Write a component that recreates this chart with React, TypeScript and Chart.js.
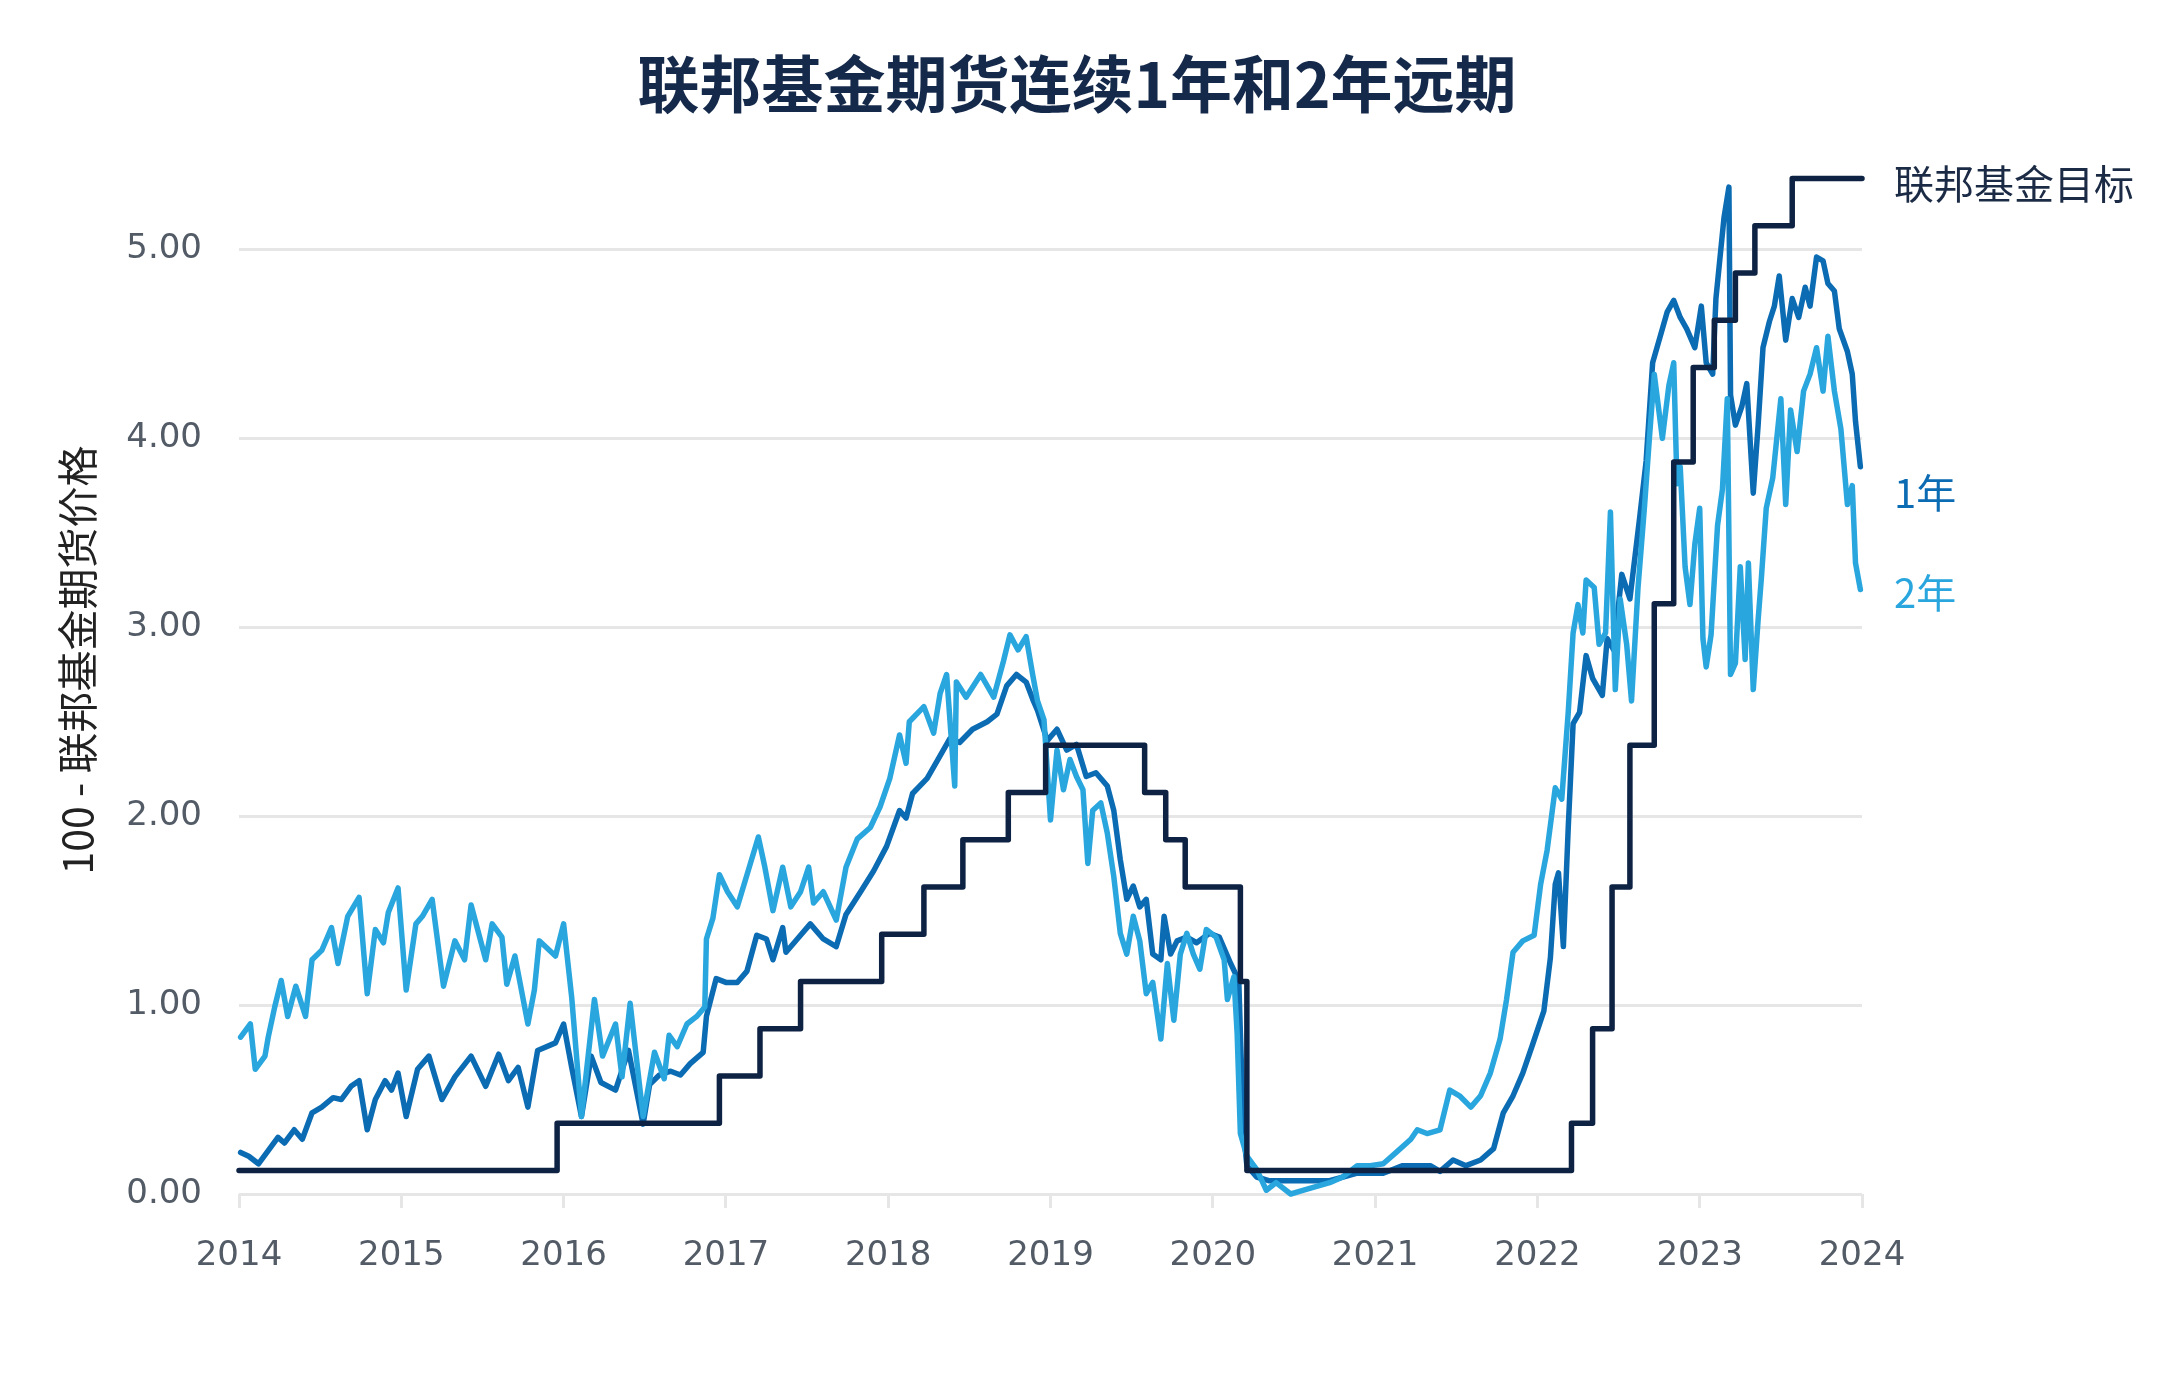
import React, { useEffect, useRef } from 'react';
import { Chart, ChartConfiguration, registerables } from 'chart.js';

Chart.register(...registerables);

const TITLE = '联邦基金期货连续1年和2年远期';
const Y_TITLE = '100 - 联邦基金期货价格';
const FED_LABEL = '联邦基金目标';
const ONE_YEAR_LABEL = '1年';
const TWO_YEAR_LABEL = '2年';

const xTickYears = [2014, 2015, 2016, 2017, 2018, 2019, 2020, 2021, 2022, 2023, 2024];
const yTickValues = [0, 1, 2, 3, 4, 5];

// Fed funds target (mid of range), step starts
const fedDates = [
    2014.0, 2015.96, 2016.96, 2017.21, 2017.46, 2017.96, 2018.22, 2018.46, 2018.74, 2018.97,
    2019.58, 2019.71, 2019.83, 2020.17, 2020.21, 2022.21, 2022.34, 2022.46, 2022.57, 2022.72,
    2022.84, 2022.96, 2023.09, 2023.22, 2023.34, 2023.57, 2024.0,
];
const fedRates = [
    0.125, 0.375, 0.625, 0.875, 1.125, 1.375, 1.625, 1.875, 2.125, 2.375,
    2.125, 1.875, 1.625, 1.125, 0.125, 0.375, 0.875, 1.625, 2.375, 3.125,
    3.875, 4.375, 4.625, 4.875, 5.125, 5.375, 5.375,
];

// 1-year forward
const oneYearDates = [
    2014.01, 2014.06, 2014.12, 2014.18, 2014.24, 2014.28, 2014.34, 2014.39, 2014.45, 2014.51,
    2014.58, 2014.63, 2014.69, 2014.74, 2014.79, 2014.84, 2014.90, 2014.94, 2014.98, 2015.03,
    2015.10, 2015.17, 2015.25, 2015.33, 2015.43, 2015.52, 2015.60, 2015.66, 2015.72, 2015.78,
    2015.84, 2015.95, 2016.00, 2016.05, 2016.11, 2016.17, 2016.23, 2016.32, 2016.40, 2016.49,
    2016.53, 2016.59, 2016.66, 2016.72, 2016.78, 2016.86, 2016.88, 2016.94, 2017.00, 2017.07,
    2017.13, 2017.19, 2017.25, 2017.29, 2017.35, 2017.37, 2017.44, 2017.52, 2017.60, 2017.68,
    2017.74, 2017.83, 2017.91, 2017.99, 2018.07, 2018.11, 2018.15, 2018.24, 2018.30, 2018.38,
    2018.44, 2018.52, 2018.61, 2018.67, 2018.73, 2018.79, 2018.85, 2018.89, 2018.92, 2018.98,
    2019.04, 2019.10, 2019.16, 2019.22, 2019.28, 2019.35, 2019.39, 2019.43, 2019.47, 2019.51,
    2019.55, 2019.59, 2019.63, 2019.68, 2019.70, 2019.74, 2019.78, 2019.84, 2019.90, 2019.98,
    2020.04, 2020.11, 2020.16, 2020.17, 2020.19, 2020.21, 2020.27, 2020.35, 2020.52, 2020.72,
    2020.89, 2021.05, 2021.17, 2021.34, 2021.40, 2021.48, 2021.56, 2021.65, 2021.73, 2021.79,
    2021.85, 2021.91, 2021.97, 2022.04, 2022.08, 2022.11, 2022.13, 2022.16, 2022.19, 2022.22,
    2022.26, 2022.30, 2022.34, 2022.40, 2022.43, 2022.47, 2022.52, 2022.57, 2022.63, 2022.67,
    2022.71, 2022.76, 2022.80, 2022.84, 2022.88, 2022.92, 2022.97, 2023.01, 2023.04, 2023.08,
    2023.10, 2023.15, 2023.18, 2023.19, 2023.22, 2023.26, 2023.29, 2023.33, 2023.36, 2023.39,
    2023.43, 2023.46, 2023.49, 2023.53, 2023.57, 2023.61, 2023.65, 2023.68, 2023.72, 2023.76,
    2023.79, 2023.83, 2023.86, 2023.91, 2023.94, 2023.96, 2023.99,
];
const oneYearValues = [
    0.22, 0.20, 0.16, 0.23, 0.30, 0.27, 0.34, 0.29, 0.43, 0.46,
    0.51, 0.50, 0.57, 0.60, 0.34, 0.50, 0.60, 0.55, 0.64, 0.41,
    0.66, 0.73, 0.50, 0.62, 0.73, 0.57, 0.74, 0.60, 0.67, 0.46,
    0.76, 0.80, 0.90, 0.67, 0.41, 0.73, 0.59, 0.55, 0.76, 0.37,
    0.58, 0.63, 0.65, 0.63, 0.69, 0.75, 0.94, 1.14, 1.12, 1.12,
    1.18, 1.37, 1.35, 1.24, 1.41, 1.28, 1.35, 1.43, 1.35, 1.31,
    1.48, 1.60, 1.71, 1.84, 2.03, 1.99, 2.12, 2.20, 2.29, 2.41,
    2.39, 2.46, 2.50, 2.54, 2.69, 2.75, 2.71, 2.62, 2.56, 2.40,
    2.46, 2.35, 2.38, 2.21, 2.23, 2.16, 2.03, 1.77, 1.56, 1.63,
    1.52, 1.56, 1.27, 1.24, 1.47, 1.27, 1.34, 1.36, 1.33, 1.38,
    1.36, 1.22, 1.13, 0.85, 0.32, 0.15, 0.09, 0.07, 0.07, 0.07,
    0.11, 0.11, 0.15, 0.15, 0.12, 0.18, 0.15, 0.18, 0.24, 0.43,
    0.52, 0.64, 0.79, 0.97, 1.25, 1.64, 1.70, 1.31, 1.94, 2.49,
    2.55, 2.85, 2.73, 2.64, 2.94, 2.88, 3.28, 3.15, 3.58, 3.88,
    4.40, 4.55, 4.67, 4.73, 4.64, 4.58, 4.48, 4.70, 4.40, 4.34,
    4.74, 5.17, 5.33, 4.23, 4.07, 4.17, 4.29, 3.71, 4.07, 4.48,
    4.62, 4.70, 4.86, 4.52, 4.74, 4.64, 4.80, 4.70, 4.96, 4.94,
    4.82, 4.78, 4.58, 4.46, 4.34, 4.09, 3.85,
];

// 2-year forward
const twoYearDates = [
    2014.01, 2014.07, 2014.10, 2014.16, 2014.18, 2014.22, 2014.26, 2014.30, 2014.35, 2014.41,
    2014.45, 2014.51, 2014.57, 2014.61, 2014.67, 2014.74, 2014.79, 2014.84, 2014.89, 2014.92,
    2014.98, 2015.03, 2015.09, 2015.13, 2015.19, 2015.26, 2015.33, 2015.39, 2015.43, 2015.52,
    2015.56, 2015.62, 2015.65, 2015.70, 2015.78, 2015.82, 2015.85, 2015.95, 2016.00, 2016.05,
    2016.11, 2016.19, 2016.24, 2016.32, 2016.36, 2016.41, 2016.49, 2016.56, 2016.62, 2016.65,
    2016.70, 2016.76, 2016.82, 2016.87, 2016.88, 2016.92, 2016.96, 2017.01, 2017.07, 2017.13,
    2017.20, 2017.24, 2017.29, 2017.35, 2017.40, 2017.46, 2017.51, 2017.54, 2017.60, 2017.68,
    2017.74, 2017.81, 2017.89, 2017.95, 2018.01, 2018.07, 2018.11, 2018.13, 2018.22, 2018.28,
    2018.32, 2018.36, 2018.41, 2018.42, 2018.48, 2018.57, 2018.65, 2018.71, 2018.75, 2018.80,
    2018.85, 2018.89, 2018.92, 2018.96, 2019.00, 2019.04, 2019.08, 2019.12, 2019.16, 2019.20,
    2019.23, 2019.26, 2019.31, 2019.35, 2019.39, 2019.43, 2019.47, 2019.51, 2019.55, 2019.59,
    2019.63, 2019.68, 2019.72, 2019.76, 2019.80, 2019.84, 2019.88, 2019.92, 2019.96, 2020.02,
    2020.07, 2020.09, 2020.13, 2020.15, 2020.17, 2020.21, 2020.27, 2020.33, 2020.39, 2020.48,
    2020.56, 2020.64, 2020.72, 2020.80, 2020.89, 2020.97, 2021.05, 2021.13, 2021.22, 2021.26,
    2021.32, 2021.40, 2021.46, 2021.52, 2021.59, 2021.65, 2021.71, 2021.77, 2021.81, 2021.85,
    2021.91, 2021.98, 2022.02, 2022.06, 2022.11, 2022.15, 2022.19, 2022.22, 2022.25, 2022.28,
    2022.30, 2022.35, 2022.38, 2022.42, 2022.45, 2022.48, 2022.51, 2022.55, 2022.58, 2022.62,
    2022.66, 2022.69, 2022.72, 2022.77, 2022.81, 2022.84, 2022.86, 2022.88, 2022.91, 2022.94,
    2022.97, 2023.00, 2023.02, 2023.04, 2023.07, 2023.11, 2023.14, 2023.17, 2023.19, 2023.22,
    2023.25, 2023.28, 2023.30, 2023.33, 2023.36, 2023.38, 2023.41, 2023.45, 2023.50, 2023.53,
    2023.56, 2023.60, 2023.64, 2023.68, 2023.72, 2023.76, 2023.79, 2023.83, 2023.87, 2023.91,
    2023.94, 2023.96, 2023.99,
];
const twoYearValues = [
    0.83, 0.90, 0.66, 0.73, 0.83, 0.99, 1.13, 0.94, 1.10, 0.94,
    1.24, 1.29, 1.41, 1.22, 1.47, 1.57, 1.06, 1.40, 1.33, 1.49,
    1.62, 1.08, 1.43, 1.47, 1.56, 1.10, 1.34, 1.24, 1.53, 1.24,
    1.43, 1.36, 1.11, 1.26, 0.90, 1.08, 1.34, 1.26, 1.43, 1.04,
    0.41, 1.03, 0.73, 0.90, 0.62, 1.01, 0.41, 0.75, 0.61, 0.84,
    0.78, 0.90, 0.94, 0.99, 1.35, 1.46, 1.69, 1.60, 1.52, 1.69,
    1.89, 1.73, 1.50, 1.73, 1.52, 1.60, 1.73, 1.54, 1.60, 1.45,
    1.73, 1.88, 1.94, 2.05, 2.20, 2.43, 2.28, 2.50, 2.58, 2.44,
    2.65, 2.75, 2.16, 2.71, 2.63, 2.75, 2.63, 2.82, 2.96, 2.88,
    2.95, 2.75, 2.61, 2.51, 1.98, 2.35, 2.14, 2.30, 2.21, 2.14,
    1.75, 2.03, 2.07, 1.91, 1.68, 1.38, 1.27, 1.47, 1.34, 1.06,
    1.12, 0.82, 1.22, 0.92, 1.27, 1.38, 1.27, 1.19, 1.40, 1.36,
    1.24, 1.03, 1.15, 0.85, 0.32, 0.20, 0.13, 0.02, 0.06, 0.00,
    0.02, 0.04, 0.06, 0.09, 0.15, 0.15, 0.16, 0.22, 0.29, 0.34,
    0.32, 0.34, 0.55, 0.52, 0.46, 0.52, 0.64, 0.82, 1.03, 1.28,
    1.34, 1.37, 1.64, 1.82, 2.15, 2.09, 2.55, 2.97, 3.12, 2.97,
    3.25, 3.21, 2.91, 2.97, 3.61, 2.67, 3.15, 2.91, 2.61, 3.21,
    3.64, 4.00, 4.34, 4.00, 4.28, 4.40, 3.76, 3.85, 3.32, 3.12,
    3.44, 3.63, 2.94, 2.79, 2.96, 3.54, 3.73, 4.21, 2.75, 2.81,
    3.32, 2.83, 3.34, 2.67, 3.04, 3.26, 3.63, 3.79, 4.21, 3.65,
    4.15, 3.93, 4.25, 4.34, 4.48, 4.25, 4.54, 4.25, 4.05, 3.65,
    3.75, 3.34, 3.20,
];

const FED_COLOR = '#0e2243';
const ONE_YEAR_COLOR = '#0b6bb3';
const TWO_YEAR_COLOR = '#29a6de';
const TICK_COLOR = '#525b66';
const GRID_COLOR = '#e6e6e6';

const toPoints = (xs: number[], ys: number[]) => xs.map((x, i) => ({ x, y: ys[i] }));

// texts around the plot: title, axis title and the series labels on the right
const textPlugin = {
    id: 'chartTexts',
    afterDraw(chart: Chart) {
        const { ctx, chartArea } = chart;
        const yScale = chart.scales.y;
        ctx.save();

        ctx.fillStyle = '#15294a';
        ctx.font = 'bold 62px "Noto Sans CJK SC", sans-serif';
        ctx.textAlign = 'center';
        ctx.textBaseline = 'middle';
        ctx.fillText(TITLE, 1077, 84);

        ctx.save();
        ctx.translate(77, 660);
        ctx.rotate(-Math.PI / 2);
        ctx.fillStyle = '#222222';
        ctx.font = '41px "Noto Sans CJK SC", sans-serif';
        ctx.fillText(Y_TITLE, 0, 0);
        ctx.restore();

        const lx = chartArea.right + 32;
        ctx.textAlign = 'left';
        ctx.font = '40px "Noto Sans CJK SC", sans-serif';
        ctx.fillStyle = '#1c2b45';
        ctx.fillText(FED_LABEL, lx, yScale.getPixelForValue(5.4) + 10);
        ctx.fillStyle = ONE_YEAR_COLOR;
        ctx.fillText(ONE_YEAR_LABEL, lx, yScale.getPixelForValue(3.75) + 7);
        ctx.fillStyle = TWO_YEAR_COLOR;
        ctx.fillText(TWO_YEAR_LABEL, lx, yScale.getPixelForValue(3.22) + 7);

        ctx.restore();
    },
};

const FuturesChart: React.FC = () => {
    const canvasRef = useRef<HTMLCanvasElement>(null);
    const chartRef = useRef<Chart | null>(null);

    useEffect(() => {
        if (!canvasRef.current) return;
        const ctx = canvasRef.current.getContext('2d');
        if (!ctx) return;

        const lineBase = {
            pointRadius: 0,
            tension: 0,
            borderJoinStyle: 'round' as const,
            borderCapStyle: 'round' as const,
            clip: 8,
        };

        const config: ChartConfiguration<'line'> = {
            type: 'line',
            data: {
                datasets: [
                    {
                        ...lineBase,
                        label: FED_LABEL,
                        data: toPoints(fedDates, fedRates),
                        borderColor: FED_COLOR,
                        borderWidth: 5.5,
                        stepped: true,
                    },
                    {
                        ...lineBase,
                        label: TWO_YEAR_LABEL,
                        data: toPoints(twoYearDates, twoYearValues),
                        borderColor: TWO_YEAR_COLOR,
                        borderWidth: 5.5,
                    },
                    {
                        ...lineBase,
                        label: ONE_YEAR_LABEL,
                        data: toPoints(oneYearDates, oneYearValues),
                        borderColor: ONE_YEAR_COLOR,
                        borderWidth: 5.5,
                    },
                ],
            },
            options: {
                responsive: true,
                maintainAspectRatio: false,
                animation: false,
                layout: {
                    padding: { left: 119, right: 312, top: 155, bottom: 87 },
                },
                scales: {
                    x: {
                        type: 'linear',
                        min: 2014,
                        max: 2024,
                        afterBuildTicks: (scale) => {
                            scale.ticks = xTickYears.map(v => ({ value: v }));
                        },
                        afterFit: (scale) => {
                            scale.height = 100;
                        },
                        ticks: {
                            color: TICK_COLOR,
                            font: { family: '"DejaVu Sans", sans-serif', size: 34 },
                            padding: 28,
                            maxRotation: 0,
                            callback: (value) => String(value),
                        },
                        grid: {
                            drawOnChartArea: false,
                            drawTicks: true,
                            tickLength: 14,
                            color: GRID_COLOR,
                            lineWidth: 3,
                        },
                        border: { display: false },
                    },
                    y: {
                        type: 'linear',
                        min: 0,
                        max: 5.5,
                        afterBuildTicks: (scale) => {
                            scale.ticks = yTickValues.map(v => ({ value: v }));
                        },
                        afterFit: (scale) => {
                            scale.width = 120;
                        },
                        ticks: {
                            color: TICK_COLOR,
                            font: { family: '"DejaVu Sans", sans-serif', size: 34 },
                            padding: 37,
                            callback: (value) => Number(value).toFixed(2),
                        },
                        grid: {
                            color: GRID_COLOR,
                            lineWidth: 3,
                            drawTicks: false,
                        },
                        border: { display: false },
                    },
                },
                plugins: {
                    legend: { display: false },
                    tooltip: { enabled: false },
                },
            },
            plugins: [textPlugin],
        };

        chartRef.current = new Chart(ctx, config);

        return () => {
            if (chartRef.current) {
                chartRef.current.destroy();
                chartRef.current = null;
            }
        };
    }, []);

    return (
        <div style={{ position: 'fixed', left: 0, top: 0, width: '2174px', height: '1381px', background: '#ffffff' }}>
            <canvas ref={canvasRef} />
        </div>
    );
};

export default function App() {
    return <FuturesChart />;
}
